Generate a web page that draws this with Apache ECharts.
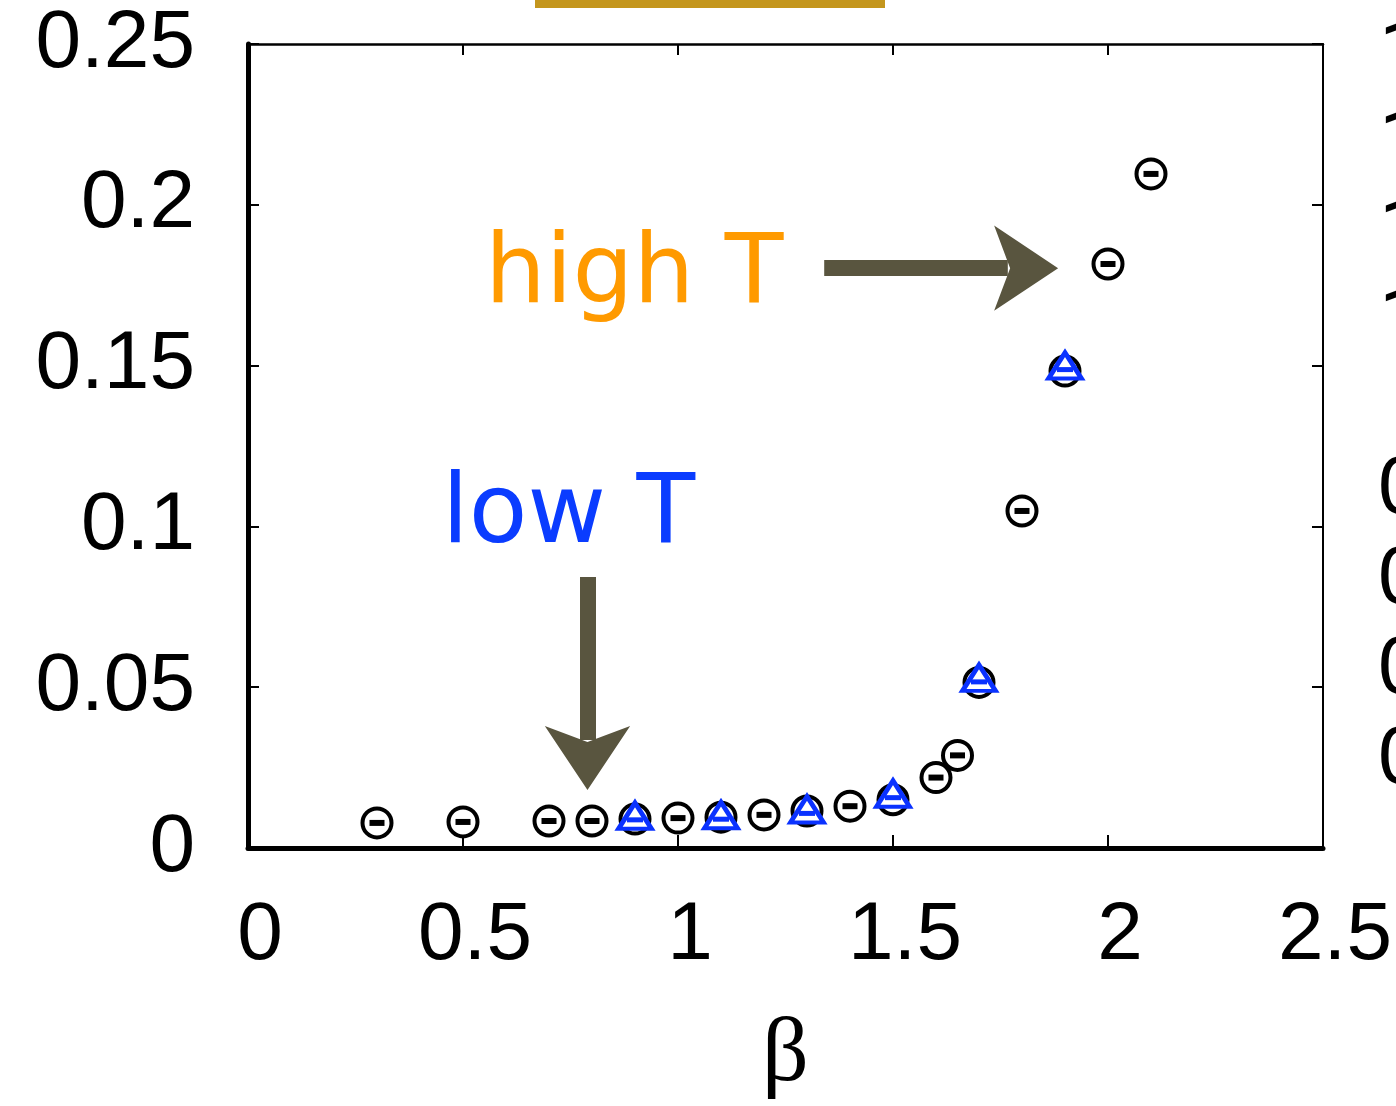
<!DOCTYPE html>
<html>
<head>
<meta charset="utf-8">
<script src="https://cdn.jsdelivr.net/npm/echarts@6/dist/echarts.min.js"></script>
<style>
  html,body{margin:0;padding:0;background:#fff;}
  #main{width:1396px;height:1106px;}
</style>
</head>
<body>
<div id="main"></div>
<script>
// beta values and measured quantity (circles)
var betaCircle = [0.3,0.5,0.7,0.8,0.9,1.0,1.1,1.2,1.3,1.4,1.5,1.6,1.65,1.7,1.8,1.9,2.0,2.1];
var valCircle  = [0.0078,0.0081,0.0084,0.0084,0.0090,0.0093,0.0096,0.0103,0.0115,0.0130,0.0150,0.0219,0.0288,0.0515,0.1048,0.1483,0.1816,0.2096];
// second data set (blue triangles)
var betaTri = [0.9,1.1,1.3,1.5,1.7,1.9];
var valTri  = [0.0100,0.0102,0.0120,0.0169,0.0529,0.1500];
// arrows in data space: shaft start, notch, tip
var arrowHigh = { start:[1.340,0.1803], notch:[1.767,0.1803], tip:[1.884,0.1803] };
var arrowLow  = { start:[0.7895,0.0843], notch:[0.7895,0.0336], tip:[0.7895,0.0180] };
// cut-off tick labels of the neighbouring panel (only first glyph visible)
var sideLabelsTop = ['1','1','1','1'];
var sideLabelsBottom = ['0','0','0','0'];

function pairs(xs, ys){
  var out = [];
  for(var i=0;i<xs.length;i++){ out.push([xs[i], ys[i]]); }
  return out;
}

var arrowColor = '#59553f';
var labelFont = 'Liberation Sans';

var myChart = echarts.init(document.getElementById('main'));

// side labels as titles; Roboto's "1" has no foot serif, like the original
var titles = [];
sideLabelsTop.forEach(function(t, i){
  titles.push({ text:t, left:1379, top:16 + i*89, padding:0,
    textStyle:{ fontFamily:'Roboto', fontSize:82, fontWeight:'normal', color:'#000' } });
});
sideLabelsBottom.forEach(function(t, i){
  titles.push({ text:t, left:1378, top:449 + i*90, padding:0,
    textStyle:{ fontFamily:labelFont, fontSize:82, fontWeight:'normal', color:'#000' } });
});

var option = {
  backgroundColor:'#fff',
  animation:false,
  title:titles,
  grid:{ left:248, right:73, top:44, bottom:258, outerBoundsMode:'none', containLabel:false },
  xAxis:[
    {
      type:'value', min:0, max:2.5, interval:0.5, position:'bottom',
      name:'β', nameLocation:'middle', nameGap:162,
      nameTextStyle:{ fontFamily:'Liberation Serif', fontSize:92, color:'#000' },
      axisLine:{ show:true, onZero:false, lineStyle:{ color:'#000', width:5 } },
      axisTick:{ show:true, inside:true, length:13, lineStyle:{ color:'#000', width:2 } },
      axisLabel:{ fontFamily:labelFont, fontSize:82, color:'#000', margin:47, padding:[0,0,0,24], showMinLabel:true, showMaxLabel:true },
      splitLine:{ show:false }
    },
    {
      type:'value', min:0, max:2.5, interval:0.5, position:'top',
      axisLine:{ show:true, onZero:false, lineStyle:{ color:'#000', width:2.5 } },
      axisTick:{ show:true, inside:true, length:11, lineStyle:{ color:'#000', width:2 } },
      axisLabel:{ show:false },
      splitLine:{ show:false }
    }
  ],
  yAxis:[
    {
      type:'value', min:0, max:0.25, interval:0.05, position:'left',
      axisLine:{ show:true, onZero:false, lineStyle:{ color:'#000', width:5 } },
      axisTick:{ show:true, inside:true, length:11, lineStyle:{ color:'#000', width:2 } },
      axisLabel:{ fontFamily:labelFont, fontSize:82, color:'#000', margin:53, padding:[7,0,0,0] },
      splitLine:{ show:false }
    },
    {
      type:'value', min:0, max:0.25, interval:0.05, position:'right',
      axisLine:{ show:true, onZero:false, lineStyle:{ color:'#000', width:2 } },
      axisTick:{ show:true, inside:true, length:11, lineStyle:{ color:'#000', width:2 } },
      axisLabel:{ show:false },
      splitLine:{ show:false }
    }
  ],
  series:[
    {
      name:'circle', type:'scatter', data:pairs(betaCircle, valCircle),
      symbol:'circle', symbolSize:29,
      itemStyle:{ color:'#fff', borderColor:'#000', borderWidth:4, opacity:1 },
      silent:true, z:2
    },
    {
      name:'circleDash', type:'scatter', data:pairs(betaCircle, valCircle),
      symbol:'rect', symbolSize:[15,6],
      itemStyle:{ color:'#000', opacity:1 },
      silent:true, z:3
    },
    {
      name:'tri', type:'scatter', data:pairs(betaTri, valTri),
      symbol:'triangle', symbolSize:[33,26],
      itemStyle:{ color:'#fff', borderColor:'#0a32ff', borderWidth:4.5, opacity:1 },
      silent:true, z:4
    },
    {
      name:'triDash', type:'scatter', data:pairs(betaTri, valTri),
      symbol:'rect', symbolSize:[16,5], symbolOffset:[0,4],
      itemStyle:{ color:'#0a32ff', opacity:1 },
      silent:true, z:5
    },
    {
      name:'arrowShafts', type:'scatter', data:[], silent:true, z:6,
      markLine:{
        silent:true, animation:false,
        symbol:['none','none'],
        label:{ show:false },
        lineStyle:{ color:arrowColor, width:16, type:'solid', opacity:1, cap:'butt' },
        emphasis:{ disabled:true },
        data:[
          [{coord:arrowHigh.start},{coord:arrowHigh.notch}],
          [{coord:arrowLow.start},{coord:arrowLow.notch}]
        ]
      }
    },
    {
      name:'arrowHeads', type:'scatter', data:[], silent:true, z:7,
      markLine:{
        silent:true, animation:false,
        symbol:['none','arrow'], symbolSize:[64,64],
        label:{ show:false },
        lineStyle:{ color:arrowColor, width:0, type:'solid', opacity:1 },
        emphasis:{ disabled:true },
        data:[
          [{coord:arrowHigh.notch},{coord:arrowHigh.tip}],
          [{coord:arrowLow.notch},{coord:arrowLow.tip}]
        ]
      }
    }
  ],
  graphic:[
    { type:'rect', left:535, top:0, shape:{ width:350, height:8 }, style:{ fill:'#c4961d' }, silent:true },
    { type:'text', x:485, y:277, style:{ text:'high T', font:'96px "DejaVu Sans"', fill:'#ff9a00', verticalAlign:'middle' }, silent:true },
    { type:'text', x:442, y:517, style:{ text:'low T', font:'96px "DejaVu Sans"', fill:'#0a3cff', verticalAlign:'middle' }, silent:true }
  ]
};
myChart.setOption(option);
</script>
</body>
</html>
